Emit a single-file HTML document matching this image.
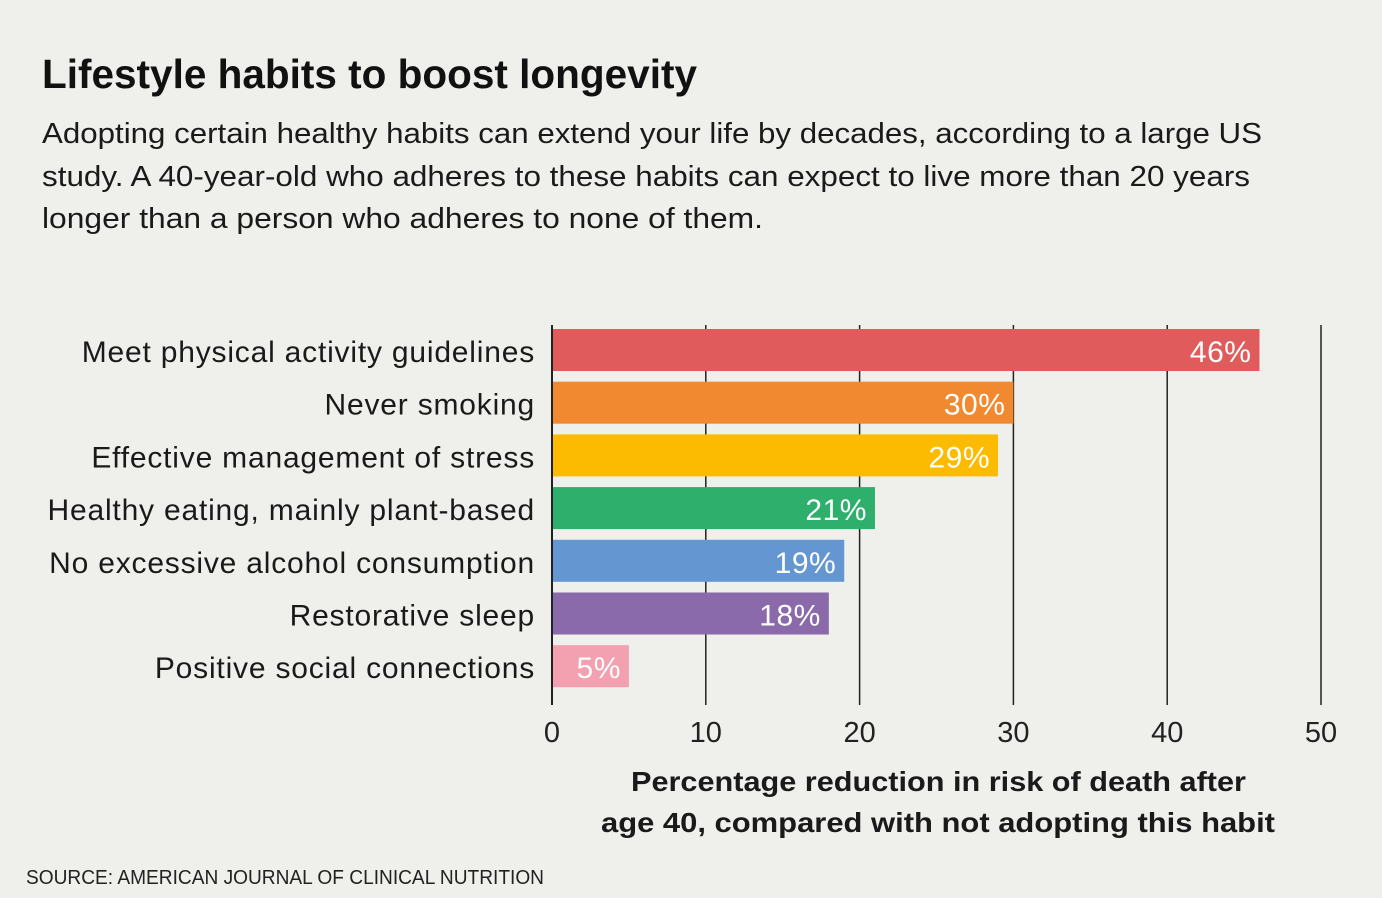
<!DOCTYPE html>
<html><head><meta charset="utf-8"><style>
body{margin:0;background:#efefeb;font-family:"Liberation Sans",sans-serif;}
#wrap{position:relative;width:1382px;height:898px;overflow:hidden;background:#efefeb;}
</style></head><body>
<div id="wrap">
<svg id="svg" width="1382" height="898" xmlns="http://www.w3.org/2000/svg">
<text x="42" y="88" font-size="41" font-weight="bold" fill="#111" textLength="655" lengthAdjust="spacingAndGlyphs">Lifestyle habits to boost longevity</text>
<g font-size="29" fill="#1a1a1a">
<text x="42" y="143" textLength="1220" lengthAdjust="spacingAndGlyphs">Adopting certain healthy habits can extend your life by decades, according to a large US</text>
<text x="42" y="186" textLength="1208" lengthAdjust="spacingAndGlyphs">study. A 40-year-old who adheres to these habits can expect to live more than 20 years</text>
<text x="42" y="228" textLength="721" lengthAdjust="spacingAndGlyphs">longer than a person who adheres to none of them.</text>
</g>
<g id="grid"></g><g id="bars"></g><g id="ticks"></g>
<g font-size="28" font-weight="bold" fill="#1a1a1a">
<text x="631" y="791" textLength="615" lengthAdjust="spacingAndGlyphs">Percentage reduction in risk of death after</text>
<text x="601" y="832" textLength="674" lengthAdjust="spacingAndGlyphs">age 40, compared with not adopting this habit</text>
</g>
<text x="26" y="884" font-size="20" fill="#222" textLength="518" lengthAdjust="spacingAndGlyphs">SOURCE: AMERICAN JOURNAL OF CLINICAL NUTRITION</text>
</svg>
</div>
<script>
const categories=["Meet physical activity guidelines","Never smoking","Effective management of stress","Healthy eating, mainly plant-based","No excessive alcohol consumption","Restorative sleep","Positive social connections"];
const values=[46,30,29,21,19,18,5];
const colors=["#e05c5c","#f0892f","#fdbb00","#2eaf6b","#6496d2","#8a6aaa","#f3a0b0"];
const tickValues=[0,10,20,30,40,50];
const NS="http://www.w3.org/2000/svg";
const x0=552,x1=1321,plotTop=325,rowH=52.7,barH=42,firstY=329;
function xs(v){return x0+(x1-x0)*v/50;}
function mk(t,a,p){const e=document.createElementNS(NS,t);for(const k in a)e.setAttribute(k,a[k]);p.appendChild(e);return e;}
const grid=document.getElementById('grid'),bars=document.getElementById('bars'),ticks=document.getElementById('ticks');
tickValues.forEach(v=>{
 const l=mk('line',{x1:xs(v),x2:xs(v),y1:plotTop,y2:705,stroke:'#222','stroke-width':v===0?2:1.5},grid);
 
 
 const t=mk('text',{x:xs(v),y:742,'font-size':29,fill:'#222','text-anchor':'middle'},ticks);
 t.textContent=v;
 
 
});
categories.forEach((c,i)=>{
 const y=firstY+i*rowH;
 const r=mk('rect',{x:xs(0)+1,y:y,width:xs(values[i])-xs(0)-1,height:barH,fill:colors[i]},bars);
 
 
 const lb=mk('text',{x:535,y:y+barH/2+12,'font-size':30,fill:'#1a1a1a','text-anchor':'end','letter-spacing':'0.8'},bars);
 lb.textContent=c;
 
 
 const vl=mk('text',{x:xs(values[i])-8,y:y+barH/2+12,'font-size':30,fill:'#fff','text-anchor':'end','letter-spacing':'0.5'},bars);
 vl.textContent=values[i]+'%';
 
 
});
</script>
</body></html>
